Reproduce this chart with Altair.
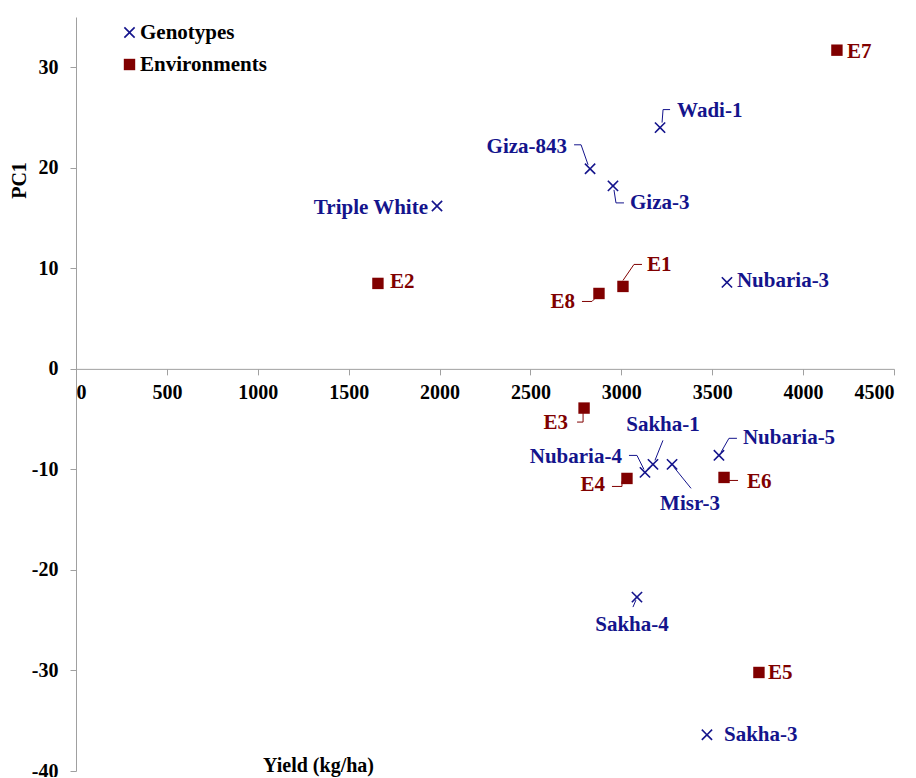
import altair as alt
import pandas as pd

# ---------------- data ----------------
geno_names = ["Wadi-1", "Giza-843", "Giza-3", "Triple White", "Nubaria-3", "Sakha-1",
              "Nubaria-4", "Misr-3", "Nubaria-5", "Sakha-4", "Sakha-3"]
geno_yield = [3213, 2828, 2954, 1986, 3581, 3174, 3130, 3279, 3537, 3086, 3471]
geno_pc1 = [24.0, 19.9, 18.2, 16.2, 8.6, -9.5, -10.3, -9.5, -8.6, -22.7, -36.4]

env_names = ["E1", "E2", "E3", "E4", "E5", "E6", "E7", "E8"]
env_yield = [3009, 1661, 2795, 3031, 3757, 3565, 4186, 2877]
env_pc1 = [8.2, 8.5, -3.9, -10.9, -30.2, -10.8, 31.7, 7.5]

x_ticks = [0, 500, 1000, 1500, 2000, 2500, 3000, 3500, 4000, 4500]
y_ticks = [-40, -30, -20, -10, 0, 10, 20, 30]

# ---------------- layout ----------------
W, H = 818, 754
XDOM = [0, 4500]
YDOM = [-40, 35]
kx = W / (XDOM[1] - XDOM[0])   # px per x unit
ky = H / (YDOM[1] - YDOM[0])   # px per y unit

NAVY = "#14148c"
DRED = "#800000"
FONT = "Liberation Serif"
X_PATH = "M-1,-0.8L-0.8,-1L0,-0.2L0.8,-1L1,-0.8L0.2,0L1,0.8L0.8,1L0,0.2L-0.8,1L-1,0.8L-0.2,0Z"

# label placement: pixel offset from point, alignment, leader polyline (pixel offsets)
label_layout = {
    "Wadi-1": (17, -17, "left", [(2, -5), (3, -18), (10, -18)]),
    "Giza-843": (-23, -22, "right", [(-16, -24), (-9, -24), (-2, -4)]),
    "Giza-3": (17, 17, "left", [(1, 4), (3, 17), (11, 17)]),
    "Triple White": (-9, 2, "right", []),
    "Nubaria-3": (10, -1, "left", []),
    "Sakha-1": (10, -39, "center", [(10, -24), (2, -4)]),
    "Nubaria-4": (-23, -15, "right", [(-16, -17), (-8, -17), (-1, -3)]),
    "Misr-3": (18, 40, "center", [(2, 3), (19, 24)]),
    "Nubaria-5": (24, -17, "left", [(2, -3), (10, -17), (18, -17)]),
    "Sakha-4": (-5, 28, "center", [(-1, 3), (-4, 10)]),
    "Sakha-3": (17, 0, "left", []),
    "E1": (24, -21, "left", [(0, -6), (11, -22), (19, -22)]),
    "E2": (12, -1, "left", []),
    "E3": (-16, 15, "right", [(-7, 14), (-1, 14), (-1, 5)]),
    "E4": (-22, 7, "right", [(-15, 8), (-5, 8), (-5, 3)]),
    "E5": (9, 1, "left", []),
    "E6": (23, 5, "left", [(5, 3), (14, 3)]),
    "E7": (10, 2, "left", []),
    "E8": (-24, 9, "right", [(-17, 8), (-7, 8), (-2, 3)]),
}

pts = pd.DataFrame({
    "name": geno_names + env_names,
    "yield": geno_yield + env_yield,
    "pc1": geno_pc1 + env_pc1,
    "type": ["Genotypes"] * len(geno_names) + ["Environments"] * len(env_names),
})

lab_rows, lead_rows = [], []
for _, r in pts.iterrows():
    dx, dy, al, lead = label_layout[r["name"]]
    lab_rows.append({"name": r["name"], "type": r["type"], "align": al,
                     "lx": r["yield"] + dx / kx, "ly": r["pc1"] - dy / ky})
    for i, (ox, oy) in enumerate(lead):
        lead_rows.append({"name": r["name"], "type": r["type"], "ord": i,
                          "lx": r["yield"] + ox / kx, "ly": r["pc1"] - oy / ky})
labs = pd.DataFrame(lab_rows)
leads = pd.DataFrame(lead_rows)

type_dom = ["Genotypes", "Environments"]
color_scale = alt.Scale(domain=type_dom, range=[NAVY, DRED])
xs = alt.Scale(domain=XDOM, nice=False, zero=False)
ys = alt.Scale(domain=YDOM, nice=False, zero=False)

legend = alt.Legend(orient="none", legendX=43, legendY=5, title=None,
                    labelFont=FONT, labelFontSize=21, labelFontWeight="bold",
                    labelColor="black", symbolSize=130, rowPadding=10,
                    labelOffset=0, padding=0, symbolStrokeWidth=0)

base_x = alt.X("yield:Q", scale=xs, axis=alt.Axis(
    values=x_ticks, title="Yield (kg/ha)", offset=-(0 - YDOM[0]) * ky,
    labelExpr="datum.value + ''",
    titleX=242, titleY=387, titleBaseline="top", titleAnchor="start", titleAlign="center",
    labelPadding=8, tickSize=6, grid=False))
base_y = alt.Y("pc1:Q", scale=ys, axis=alt.Axis(
    values=y_ticks, title="PC1", titleX=-57, titleY=163, titleAngle=-90,
    labelExpr="datum.value + ''",
    titleBaseline="middle", titleAlign="center",
    labelPadding=12, tickSize=6, grid=False))

color_enc = alt.Color("type:N", scale=color_scale, title=None, legend=legend)

points = alt.Chart(pts).mark_point(filled=True, size=130, opacity=1, strokeWidth=0).encode(
    x=base_x, y=base_y,
    color=color_enc,
    shape=alt.Shape("type:N", scale=alt.Scale(domain=type_dom, range=[X_PATH, "square"]),
                    title=None, legend=legend),
)

leaders = alt.Chart(leads).mark_line(strokeWidth=1).encode(
    x=alt.X("lx:Q", scale=xs), y=alt.Y("ly:Q", scale=ys),
    detail="name:N", order="ord:Q",
    color=color_enc,
)

texts = []
for al in ["left", "right", "center"]:
    texts.append(
        alt.Chart(labs[labs["align"] == al]).mark_text(
            align=al, baseline="middle", font=FONT, fontSize=21, fontWeight="bold").encode(
            x=alt.X("lx:Q", scale=xs), y=alt.Y("ly:Q", scale=ys),
            text="name:N",
            color=color_enc,
        )
    )

chart = alt.layer(points, leaders, *texts).properties(
    width=W, height=H,
    autosize=alt.AutoSizeParams(type="none"),
    padding={"left": 68, "top": 9, "right": 13, "bottom": 6},
).configure_view(stroke=None).configure_axis(
    domainColor="#a0a0a0", tickColor="#a0a0a0",
    labelFont=FONT, labelFontSize=20, labelFontWeight="bold", labelColor="black",
    titleFont=FONT, titleFontSize=20, titleFontWeight="bold", titleColor="black",
)

chart.save("out.html", embed_options={"renderer": "svg", "actions": False})
